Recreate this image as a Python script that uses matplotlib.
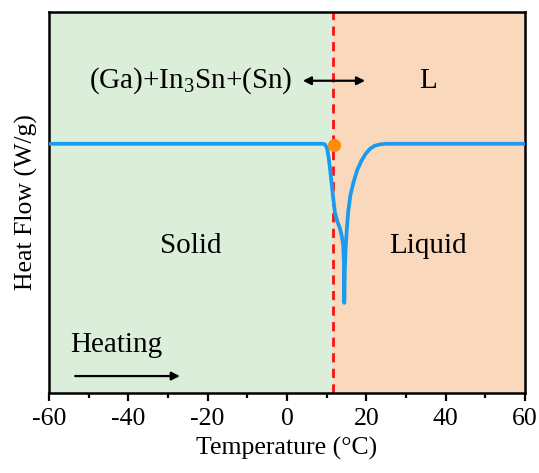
import matplotlib
matplotlib.use("Agg")
import matplotlib.pyplot as plt
from matplotlib.ticker import MultipleLocator

plt.rcParams['font.family'] = ['Liberation Serif', 'DejaVu Serif']
plt.rcParams['mathtext.fontset'] = 'custom'
plt.rcParams['mathtext.rm'] = 'Liberation Serif'
plt.rcParams['axes.unicode_minus'] = False

# DSC heating trace (arbitrary heat-flow units, baseline = 0)
temperature = [-60, -40, -20, 0, 5, 9.0, 9.6, 10.1, 10.5, 10.9, 11.3, 11.7, 12.1,
               12.7, 13.4, 13.9, 14.2, 14.35, 14.45, 14.6, 14.8, 15.1, 15.45,
               16.0, 16.7, 17.7, 18.8, 19.8, 20.9, 22.0, 23.4, 25.0, 40, 60]
heat_flow = [0.0, 0.0, 0.0, 0.0, 0.0, 0.0, -0.005, -0.03, -0.09, -0.18, -0.28,
             -0.38, -0.47, -0.53, -0.58, -0.64, -0.70, -0.80, -1.085, -0.85,
             -0.71, -0.58, -0.46, -0.35, -0.27, -0.18, -0.115, -0.07, -0.035,
             -0.015, -0.004, 0.0, 0.0, 0.0]

transition_T = 11.5
onset_T, onset_flow = 11.9, -0.005

region_labels = ["Solid", "Liquid"]
phase_labels = ["(Ga)+In$_3$Sn+(Sn)", "L"]

fig = plt.figure(figsize=(5.39, 4.73), dpi=100)
ax = fig.add_axes([0.0909, 0.169, 0.883, 0.806])

xmin, xmax = -60, 60
ymin, ymax = -1.7, 0.9

ax.axvspan(xmin, transition_T, color='#daeeda', zorder=0)
ax.axvspan(transition_T, xmax, color='#fad8bc', zorder=0)
ax.axvline(transition_T, color='#ff1010', lw=2.0, ls=(0, (3.3, 2.3)), zorder=2)

ax.plot(temperature, heat_flow, color='#1a9bf0', lw=2.7, zorder=3,
        solid_joinstyle='round', solid_capstyle='round')
ax.plot([onset_T], [onset_flow], 'o', color='#ff8c0a', ms=9.5, zorder=4,
        markeredgewidth=0)

ax.set_xlim(xmin, xmax)
ax.set_ylim(ymin, ymax)
ax.xaxis.set_major_locator(MultipleLocator(20))
ax.xaxis.set_minor_locator(MultipleLocator(10))
ax.set_yticks([])
ax.tick_params(axis='x', which='major', direction='out', length=6, width=1.6,
               labelsize=18.5, pad=5)
ax.tick_params(axis='x', which='minor', direction='out', length=3.5, width=1.6)
for s in ax.spines.values():
    s.set_linewidth(1.8)

ax.set_xlabel("Temperature (°C)", fontsize=18.5, labelpad=5)
ax.set_ylabel("Heat Flow (W/g)", fontsize=18.5, labelpad=8)

fs = 21
ax.text(-24.3, -0.697, region_labels[0], fontsize=fs, ha='center', va='center')
ax.text(35.5, -0.697, region_labels[1], fontsize=fs, ha='center', va='center')
ax.text(-24.3, 0.43, phase_labels[0], fontsize=fs, ha='center', va='center')
ax.text(35.5, 0.43, phase_labels[1], fontsize=fs, ha='center', va='center')
ax.text(-54.7, -1.37, "Heating", fontsize=fs, ha='left', va='center')

ax.annotate("", xy=(19.7, 0.43), xytext=(4.0, 0.43),
            arrowprops=dict(arrowstyle='<|-|>', color='black', lw=1.6,
                            mutation_scale=12, shrinkA=0, shrinkB=0))
ax.annotate("", xy=(-27, -1.584), xytext=(-53.4, -1.584),
            arrowprops=dict(arrowstyle='-|>', color='black', lw=1.6,
                            mutation_scale=12, shrinkA=0, shrinkB=0))

fig.savefig("out.png", dpi=100)
